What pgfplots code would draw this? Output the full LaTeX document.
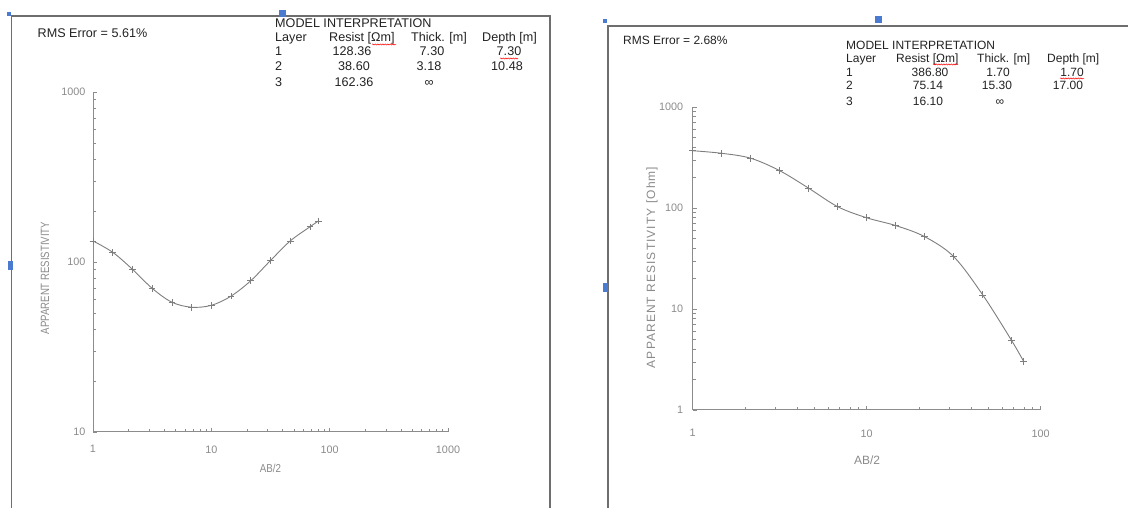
\documentclass[border=0pt]{standalone}
\usepackage{fontspec}
\setmainfont{Liberation Sans}
\usepackage{pgfplots}
\pgfplotsset{compat=1.18}
\usetikzlibrary{decorations.pathmorphing}
\definecolor{boxc}{HTML}{6E6E6E}
\definecolor{axc}{HTML}{8C8C8C}
\definecolor{labc}{HTML}{8A8A8A}
\definecolor{txt}{HTML}{222222}
\definecolor{datc}{HTML}{7E7E7E}
\definecolor{hand}{HTML}{4A7BD0}
\begin{document}
\begin{tikzpicture}
\begin{scope}[x=1pt,y=1pt]
\path[use as bounding box] (0,0) rectangle (1128,508);
% frames
\draw[boxc, line width=1.3pt] (11.5,-5) -- (11.5,492) -- (550,492) -- (550,-5);
\draw[boxc, line width=1.3pt] (608,-5) -- (608,482) -- (1135,482);
% selection handles
\fill[hand] (7,492) rectangle (11,496);
\fill[hand] (278.5,491) rectangle (285.5,498);
\fill[hand] (7.5,238) rectangle (12.5,247);
\fill[hand] (603,485) rectangle (607,489);
\fill[hand] (874.5,484.5) rectangle (881.5,491.5);
\fill[hand] (602.5,215.5) rectangle (607.5,224.5);
\end{scope}

% ---------- left panel ----------
\begin{loglogaxis}[
  scale only axis, anchor=south west, clip=false,
  axis x line=bottom, axis y line=left,
  axis line style={axc, line width=1pt, -},
  tick align=inside, major tick length=4pt, minor tick length=3pt,
  every tick/.append style={axc, line width=0.6pt},
  at={(93pt,76pt)}, width=355pt, height=340pt,
  xmin=1, xmax=1000, ymin=10, ymax=1000,
  xtick={1,10,100,1000}, xticklabels={1,10,100,1000},
  ytick={10,100,1000}, yticklabels={10,100,1000},
  minor xtick={2,3,4,5,6,7,8,9,20,30,40,50,60,70,80,90,200,300,400,500,600,700,800,900},
  minor ytick={20,30,40,50,60,70,80,90,200,300,400,500,600,700,800,900},
  xticklabel style={font=\fontsize{10.8}{11}\selectfont, text=labc, yshift=-10pt},
  yticklabel style={font=\fontsize{10.8}{11}\selectfont, text=labc, xshift=-4pt},
]
\addplot[datc, line width=0.9pt, smooth, tension=0.55, mark=+, mark size=3.3pt,
  mark options={datc, line width=0.7pt}] coordinates {
  (1,133) (1.468,114) (2.154,90.6) (3.162,70) (4.642,58) (6.813,54.2)
  (10,55.6) (14.68,63) (21.54,77.6) (31.62,102) (46.42,133) (68.13,161) (80,174)
};
\end{loglogaxis}

% ---------- right panel ----------
\begin{loglogaxis}[
  scale only axis, anchor=south west, clip=false,
  axis x line=bottom, axis y line=left,
  axis line style={axc, line width=1pt, -},
  tick align=inside, major tick length=4pt, minor tick length=3pt,
  every tick/.append style={axc, line width=0.6pt},
  at={(692.7pt,98pt)}, width=348pt, height=303pt,
  xmin=1, xmax=100, ymin=1, ymax=1000,
  xtick={1,10,100}, xticklabels={1,10,100},
  ytick={1,10,100,1000}, yticklabels={1,10,100,1000},
  minor xtick={2,3,4,5,6,7,8,9,20,30,40,50,60,70,80,90},
  minor ytick={2,3,4,5,6,7,8,9,20,30,40,50,60,70,80,90,200,300,400,500,600,700,800,900},
  xticklabel style={font=\fontsize{10.8}{11}\selectfont, text=labc, yshift=-16pt},
  yticklabel style={font=\fontsize{10.8}{11}\selectfont, text=labc, xshift=-6pt},
]
\addplot[datc, line width=0.9pt, smooth, tension=0.55, mark=+, mark size=3.6pt,
  mark options={datc, line width=0.7pt}] coordinates {
  (1,369) (1.468,348) (2.154,311) (3.162,234) (4.642,157) (6.813,103)
  (10,80) (14.68,67) (21.54,52) (31.62,33) (46.42,13.8) (68.13,4.86) (80,3.0)
};
\end{loglogaxis}

\begin{scope}[x=1pt,y=1pt]
\node[text=labc, inner sep=0] at (270.5,40) {\scalebox{0.85}[1]{\fontsize{11.5}{12}\selectfont AB/2}};
\node[text=labc, inner sep=0, rotate=90] at (45,230) {\scalebox{0.8}[1]{\fontsize{12}{12}\selectfont APPARENT RESISTIVITY}};

\begin{scope}[every node/.style={text=txt, inner sep=0, font=\fontsize{12.6}{13}\selectfont}]
\node[anchor=base west] at (37.5,470.5) {RMS Error = 5.61\%};
\node[anchor=base west] at (275,480.5) {MODEL INTERPRETATION};
\node[anchor=base west] at (275,466) {Layer};
\node[anchor=base west] at (329,466) {Resist [Ωm]};
\node[anchor=base west] at (411,466) {Thick. [m]};
\node[anchor=base west] at (482,466) {Depth [m]};
\node[anchor=base west] at (275,452) {1};
\node[anchor=base] at (352,452) {128.36};
\node[anchor=base] at (432,452) {7.30};
\node[anchor=base] at (509,452) {7.30};
\node[anchor=base west] at (275,437.5) {2};
\node[anchor=base] at (354,437.5) {38.60};
\node[anchor=base] at (429,437.5) {3.18};
\node[anchor=base] at (507,437.5) {10.48};
\node[anchor=base west] at (275,421.5) {3};
\node[anchor=base] at (354,421.5) {162.36};
\node[anchor=base] at (429,421.5) {∞};
\end{scope}
\draw[red, line width=0.5pt, decorate, decoration={snake, amplitude=0.6pt, segment length=2.5pt}] (372,463.5) -- (396,463.5);
\draw[red, line width=0.5pt, decorate, decoration={snake, amplitude=0.6pt, segment length=2.5pt}] (500,449.5) -- (518,449.5);

\node[text=labc, inner sep=0] at (867,48) {\fontsize{12}{12}\selectfont AB/2};
\node[text=labc, inner sep=0, rotate=90] at (652,240.5) {\fontsize{12}{12}\selectfont\addfontfeatures{LetterSpace=9}APPARENT RESISTIVITY [Ohm]};

\begin{scope}[every node/.style={text=txt, inner sep=0, font=\fontsize{12}{13}\selectfont}]
\node[anchor=base west] at (623,463.7) {RMS Error = 2.68\%};
\node[anchor=base west] at (846,458.7) {MODEL INTERPRETATION};
\node[anchor=base west] at (846,445.2) {Layer};
\node[anchor=base west] at (896,445.2) {Resist [Ωm]};
\node[anchor=base west] at (977,445.2) {Thick. [m]};
\node[anchor=base west] at (1047,445.2) {Depth [m]};
\node[anchor=base west] at (846,431.7) {1};
\node[anchor=base] at (930,431.7) {386.80};
\node[anchor=base] at (998,431.7) {1.70};
\node[anchor=base] at (1072,431.7) {1.70};
\node[anchor=base west] at (846,418.2) {2};
\node[anchor=base] at (928,418.2) {75.14};
\node[anchor=base] at (997,418.2) {15.30};
\node[anchor=base] at (1068,418.2) {17.00};
\node[anchor=base west] at (846,402.2) {3};
\node[anchor=base] at (928,402.2) {16.10};
\node[anchor=base] at (1000,402.2) {∞};
\end{scope}
\draw[red, line width=0.5pt, decorate, decoration={snake, amplitude=0.6pt, segment length=2.5pt}] (933,443.5) -- (958,443.5);
\draw[red, line width=0.5pt, decorate, decoration={snake, amplitude=0.6pt, segment length=2.5pt}] (1060,429.5) -- (1084,429.5);
\end{scope}
\end{tikzpicture}
\end{document}
